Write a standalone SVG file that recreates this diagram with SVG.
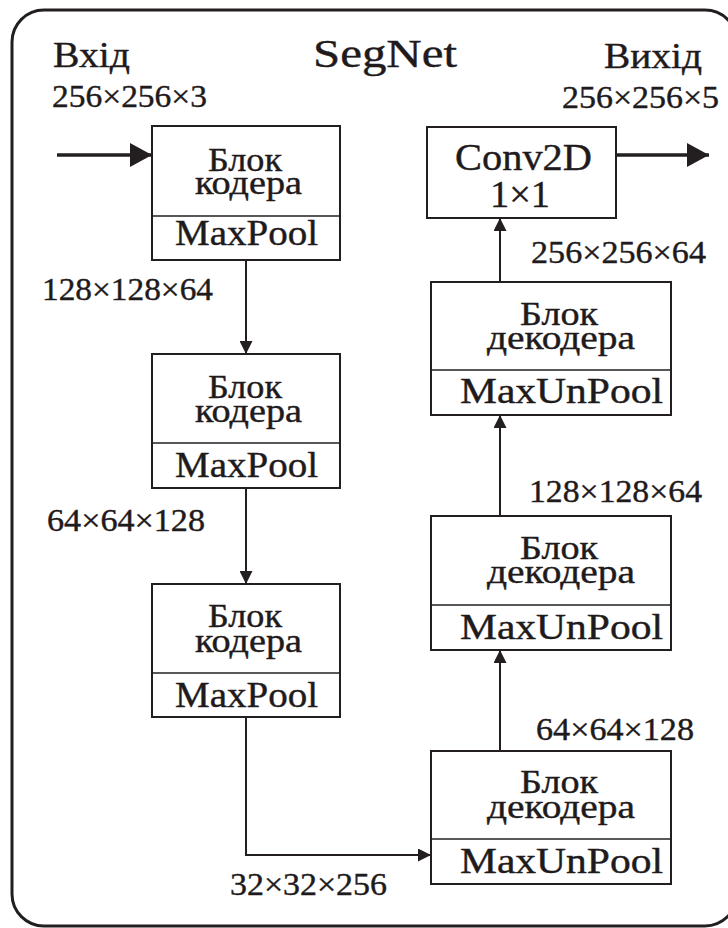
<svg xmlns="http://www.w3.org/2000/svg" width="728" height="928" viewBox="0 0 728 928" font-family="'Liberation Serif', 'Times New Roman', Times, serif">
  <defs>
    <style>
      text { font-family: "Liberation Serif", "Times New Roman", Times, serif; fill: #1f1b1c; stroke: #1f1b1c; stroke-width: 0.4; }
      .frame { fill: #ffffff; stroke: #231f20; stroke-width: 3; }
      .box { fill: #ffffff; stroke: #231f20; stroke-width: 2; }
      .div { stroke: #231f20; stroke-width: 1.5; fill: none; }
      .wire { fill: none; stroke: #231f20; stroke-width: 2; }
      .io { fill: none; stroke: #231f20; stroke-width: 3.5; }
      .title { font-size: 40px; }
      .head { font-size: 36px; }
      .dim { font-size: 31px; }
      .blk { font-size: 33px; }
      .pool { font-size: 35px; }
      .conv { font-size: 38px; }
    </style>
    <marker id="arr" markerUnits="userSpaceOnUse" markerWidth="13" markerHeight="13" refX="13" refY="6.5" orient="auto">
      <path d="M0,0 L13,6.5 L0,13 z" fill="#231f20"/>
    </marker>
    <marker id="arrBig" markerUnits="userSpaceOnUse" markerWidth="22" markerHeight="24" refX="22" refY="12" orient="auto">
      <path d="M0,0 L22,12 L0,24 z" fill="#231f20"/>
    </marker>
  </defs>

  <rect width="728" height="928" fill="#ffffff"/>
  <!-- outer frame -->
  <rect class="frame" x="12" y="10" width="725" height="916" rx="32" ry="32"/>

  <!-- headings -->
  <g id="title">
    <text class="title" x="313" y="67" textLength="144" lengthAdjust="spacingAndGlyphs">SegNet</text>
  </g>
  <g id="input">
    <text class="head" x="53" y="67" textLength="77" lengthAdjust="spacingAndGlyphs">Вхід</text>
    <text class="dim" x="52" y="107" textLength="155" lengthAdjust="spacingAndGlyphs">256×256×3</text>
  </g>
  <g id="output">
    <text class="head" x="604" y="68" textLength="98" lengthAdjust="spacingAndGlyphs">Вихід</text>
    <text class="dim" x="562" y="108" textLength="157" lengthAdjust="spacingAndGlyphs">256×256×5</text>
  </g>

  <!-- encoder blocks -->
  <g id="enc1">
    <rect class="box" x="152" y="126" width="188" height="134"/>
    <line class="div" x1="152" y1="216" x2="340" y2="216"/>
    <text class="blk" x="208" y="171" textLength="74" lengthAdjust="spacingAndGlyphs">Блок</text>
    <text class="blk" x="195" y="194" textLength="107" lengthAdjust="spacingAndGlyphs">кодера</text>
    <text class="pool" x="175" y="245" textLength="143" lengthAdjust="spacingAndGlyphs">MaxPool</text>
  </g>
  <g id="enc2">
    <rect class="box" x="152" y="354" width="188" height="134"/>
    <line class="div" x1="152" y1="443" x2="340" y2="443"/>
    <text class="blk" x="208" y="398" textLength="74" lengthAdjust="spacingAndGlyphs">Блок</text>
    <text class="blk" x="195" y="422" textLength="107" lengthAdjust="spacingAndGlyphs">кодера</text>
    <text class="pool" x="175" y="477" textLength="143" lengthAdjust="spacingAndGlyphs">MaxPool</text>
  </g>
  <g id="enc3">
    <rect class="box" x="152" y="584" width="188" height="133"/>
    <line class="div" x1="152" y1="673" x2="340" y2="673"/>
    <text class="blk" x="208" y="627" textLength="74" lengthAdjust="spacingAndGlyphs">Блок</text>
    <text class="blk" x="195" y="652" textLength="107" lengthAdjust="spacingAndGlyphs">кодера</text>
    <text class="pool" x="175" y="707" textLength="143" lengthAdjust="spacingAndGlyphs">MaxPool</text>
  </g>

  <!-- decoder blocks -->
  <g id="dec1">
    <rect class="box" x="431" y="282" width="240" height="133"/>
    <line class="div" x1="431" y1="370" x2="671" y2="370"/>
    <text class="blk" x="520" y="325" textLength="78" lengthAdjust="spacingAndGlyphs">Блок</text>
    <text class="blk" x="487" y="349" textLength="148" lengthAdjust="spacingAndGlyphs">декодера</text>
    <text class="pool" x="460" y="403" textLength="203" lengthAdjust="spacingAndGlyphs">MaxUnPool</text>
  </g>
  <g id="dec2">
    <rect class="box" x="431" y="516" width="240" height="134"/>
    <line class="div" x1="431" y1="605" x2="671" y2="605"/>
    <text class="blk" x="520" y="559" textLength="78" lengthAdjust="spacingAndGlyphs">Блок</text>
    <text class="blk" x="487" y="583" textLength="148" lengthAdjust="spacingAndGlyphs">декодера</text>
    <text class="pool" x="460" y="639" textLength="203" lengthAdjust="spacingAndGlyphs">MaxUnPool</text>
  </g>
  <g id="dec3">
    <rect class="box" x="431" y="751" width="240" height="133"/>
    <line class="div" x1="431" y1="839" x2="671" y2="839"/>
    <text class="blk" x="520" y="793" textLength="78" lengthAdjust="spacingAndGlyphs">Блок</text>
    <text class="blk" x="487" y="818" textLength="148" lengthAdjust="spacingAndGlyphs">декодера</text>
    <text class="pool" x="460" y="873" textLength="203" lengthAdjust="spacingAndGlyphs">MaxUnPool</text>
  </g>

  <!-- final 1x1 convolution -->
  <g id="conv">
    <rect class="box" x="427" y="127" width="189" height="91"/>
    <text class="conv" x="455" y="170" textLength="137" lengthAdjust="spacingAndGlyphs">Conv2D</text>
    <text class="conv" x="490" y="207" textLength="60" lengthAdjust="spacingAndGlyphs">1×1</text>
  </g>

  <!-- connectors -->
  <g id="connectors">
    <path class="io" d="M57,155 H152" marker-end="url(#arrBig)"/>
    <path class="io" d="M616,155 H709" marker-end="url(#arrBig)"/>
    <path class="wire" d="M246,260 V354" marker-end="url(#arr)"/>
    <path class="wire" d="M246,488 V584" marker-end="url(#arr)"/>
    <path class="wire" d="M246,717 V855 H431" marker-end="url(#arr)"/>
    <path class="wire" d="M500,751 V650" marker-end="url(#arr)"/>
    <path class="wire" d="M500,516 V415" marker-end="url(#arr)"/>
    <path class="wire" d="M500,282 V218" marker-end="url(#arr)"/>
  </g>

  <!-- tensor shapes on the connectors -->
  <g id="shapes">
    <text class="dim" x="42" y="300" textLength="171" lengthAdjust="spacingAndGlyphs">128×128×64</text>
    <text class="dim" x="47" y="531" textLength="158" lengthAdjust="spacingAndGlyphs">64×64×128</text>
    <text class="dim" x="230" y="895" textLength="157" lengthAdjust="spacingAndGlyphs">32×32×256</text>
    <text class="dim" x="531" y="263" textLength="175" lengthAdjust="spacingAndGlyphs">256×256×64</text>
    <text class="dim" x="529" y="502" textLength="173" lengthAdjust="spacingAndGlyphs">128×128×64</text>
    <text class="dim" x="536" y="740" textLength="158" lengthAdjust="spacingAndGlyphs">64×64×128</text>
  </g>
</svg>
